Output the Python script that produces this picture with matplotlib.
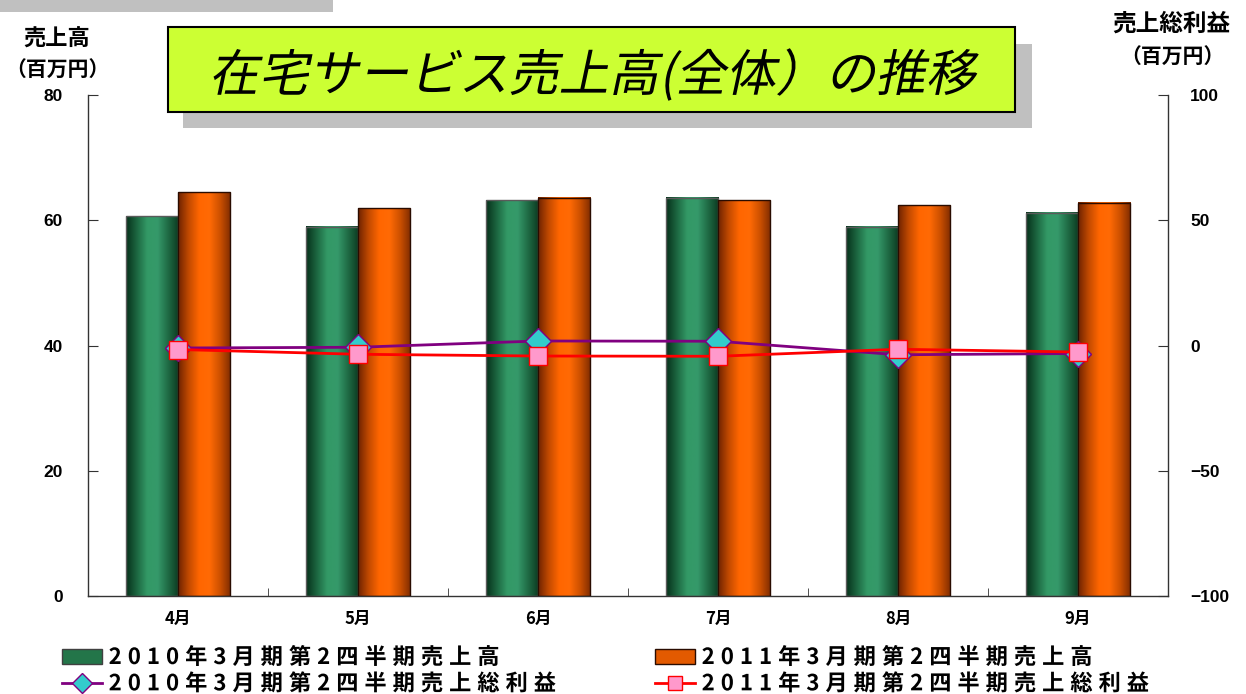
import numpy as np
import matplotlib
matplotlib.use('Agg')
import matplotlib.pyplot as plt
from matplotlib.colors import LinearSegmentedColormap
from matplotlib.patches import Rectangle, Patch
from matplotlib.lines import Line2D
from matplotlib.patheffects import AbstractPathEffect
from matplotlib.textpath import TextToPath
from matplotlib.transforms import Affine2D
from matplotlib.path import Path

W, H = 1246, 694

# data
months = ['4月', '5月', '6月', '7月', '8月', '9月']
sales_2010 = [60.6, 59.0, 63.2, 63.6, 59.0, 61.2]
sales_2011 = [64.5, 61.9, 63.6, 63.2, 62.4, 62.8]
profit_2010 = [-1.0, -0.7, 1.8, 1.7, -3.7, -3.2]
profit_2011 = [-1.6, -3.5, -4.2, -4.3, -1.5, -2.6]
series_names = ['2010年3月期第2四半期売上高', '2011年3月期第2四半期売上高',
                '2010年3月期第2四半期売上総利益', '2011年3月期第2四半期売上総利益']
title = '在宅サービス売上高(全体）の推移'

JP = ['Noto Sans CJK JP', 'DejaVu Sans']
NUM = ['Liberation Sans', 'DejaVu Sans']


class Oblique(AbstractPathEffect):
    """Fake italic: shear the glyph outlines."""
    def __init__(self, angle=12):
        super().__init__()
        self.skew = Affine2D().skew_deg(angle, 0)

    def draw_path(self, renderer, gc, tpath, affine, rgbFace=None):
        renderer.draw_path(gc, tpath, self.skew + affine, rgbFace)


class LetterSpacing(AbstractPathEffect):
    """Redraw the glyphs with extra space between them (em units)."""
    def __init__(self, text, prop, spacing):
        super().__init__()
        self.text, self.prop, self.spacing = text, prop, spacing

    def draw_path(self, renderer, gc, tpath, affine, rgbFace=None):
        t2p = TextToPath()
        font = t2p._get_font(self.prop)
        glyph_info, glyph_map, _ = t2p.get_glyphs_with_font(font, self.text)
        verts, codes = [], []
        for i, (gid, gx, gy, scale) in enumerate(glyph_info):
            v, c = glyph_map[gid]
            verts.extend(v * scale + [gx + i * self.spacing * t2p.FONT_SCALE, gy])
            codes.extend(c)
        path = Path(verts, codes) if verts else tpath
        renderer.draw_path(gc, path, affine, rgbFace)


green = LinearSegmentedColormap.from_list(
    'green', ['#06301a', '#1c6640', '#339966', '#35996a', '#1f6a44', '#0b3a21'])
orange = LinearSegmentedColormap.from_list(
    'orange', ['#6e2200', '#c24a00', '#ff6600', '#ff6a05', '#cc5000', '#7f2c00'])

fig = plt.figure(figsize=(W / 100, H / 100), dpi=100)
fig.patch.set_facecolor('white')

# decorations: gray strip, title box with shadow
fig.add_artist(Rectangle((0, 1 - 12 / H), 333 / W, 12 / H, transform=fig.transFigure,
                         fc='#C0C0C0', ec='none'))
fig.add_artist(Rectangle((183 / W, 1 - 128 / H), 849 / W, 84 / H, transform=fig.transFigure,
                         fc='#C0C0C0', ec='none'))
fig.add_artist(Rectangle((168 / W, 1 - 112 / H), 847 / W, 85 / H, transform=fig.transFigure,
                         fc='#CCFF33', ec='black', lw=1.5))
fig.text(592 / W, 1 - 91 / H, title, ha='center', va='baseline', fontsize=36,
         family=JP, color='black', path_effects=[Oblique(12)])

ax = fig.add_axes([88 / W, 1 - 596 / H, 1080 / W, 501 / H])
ax.set_facecolor('none')
ax2 = ax.twinx()

x = np.arange(len(months))
bw = 0.29
bars10 = ax.bar(x - bw / 2, sales_2010, bw, facecolor='none', edgecolor='#5a5a5a', lw=1, zorder=3)
bars11 = ax.bar(x + bw / 2, sales_2011, bw, facecolor='none', edgecolor='#2a0c00', lw=1, zorder=3)

grad = np.linspace(0, 1, 128).reshape(1, -1)
for bars, cmap in ((bars10, green), (bars11, orange)):
    for r in bars:
        ax.imshow(grad, cmap=cmap, aspect='auto', interpolation='bilinear', zorder=2,
                  extent=[r.get_x(), r.get_x() + r.get_width(), 0, r.get_height()])

ax.set_xlim(-0.5, len(months) - 0.5)
ax.set_ylim(0, 80)
ax.set_yticks([0, 20, 40, 60, 80])
ax.set_xticks(x, months)
ax.set_xticks(np.arange(0.5, len(months) - 1, 1), minor=True)

ax2.plot(x, profit_2010, color='#800080', lw=2, marker='D', ms=13,
         mfc='#33CCCC', mec='#800080', mew=1, zorder=3)
ax2.plot(x, profit_2011, color='#FF0000', lw=2, marker='s', ms=13,
         mfc='#FF99CC', mec='#FF0000', mew=1, zorder=4)
ax2.set_ylim(-100, 100)
ax2.set_yticks([-100, -50, 0, 50, 100])

for s in ('top', 'right'):
    ax.spines[s].set_visible(False)
for s in ('top', 'left', 'bottom'):
    ax2.spines[s].set_visible(False)
for sp in (ax.spines['left'], ax.spines['bottom'], ax2.spines['right']):
    sp.set_color('#333333')
    sp.set_linewidth(1)

ax.tick_params(axis='y', direction='in', length=7, pad=18, colors='#333333', labelcolor='black')
ax2.tick_params(axis='y', direction='in', length=7, pad=16, colors='#333333', labelcolor='black')
ax.tick_params(axis='x', which='major', length=0, pad=10)
ax.tick_params(axis='x', which='minor', direction='in', length=6, colors='#333333')

for lab in ax.get_yticklabels() + ax2.get_yticklabels():
    lab.set_family(NUM)
    lab.set_fontweight('bold')
    lab.set_fontsize(12.5)
for lab in ax.get_xticklabels():
    lab.set_family(JP)
    lab.set_fontweight('bold')
    lab.set_fontsize(12)

# axis titles
fig.text(57 / W, 1 - 39 / H, '売上高', ha='center', va='center', fontsize=16,
         fontweight='bold', family=JP)
fig.text(57 / W, 1 - 70 / H, '（百万円）', ha='center', va='center', fontsize=15,
         fontweight='bold', family=JP)
fig.text(1171 / W, 1 - 24 / H, '売上総利益', ha='center', va='center', fontsize=17,
         fontweight='bold', family=JP)
fig.text(1172 / W, 1 - 57 / H, '（百万円）', ha='center', va='center', fontsize=15,
         fontweight='bold', family=JP)

# legend, two columns placed separately
h_bar10 = Patch(facecolor='#237549', edgecolor='#404040')
h_bar11 = Patch(facecolor='#e35a00', edgecolor='#2a0c00')
h_line10 = Line2D([], [], color='#800080', lw=2, marker='D', ms=10, mfc='#33CCCC', mec='#800080')
h_line11 = Line2D([], [], color='#FF0000', lw=2, marker='s', ms=10, mfc='#FF99CC', mec='#FF0000')
leg_prop = dict(family=JP, weight='bold', size=16)
for handles, labels, left in (([h_bar10, h_line10], [series_names[0], series_names[2]], 62),
                              ([h_bar11, h_line11], [series_names[1], series_names[3]], 655)):
    leg = fig.legend(handles, labels, loc='upper left', bbox_to_anchor=(left / W, 1 - 646 / H),
                     frameon=False, prop=leg_prop, handlelength=1.8, handleheight=0.65,
                     handletextpad=0.3, labelspacing=0.15, borderpad=0, borderaxespad=0)
    for t in leg.get_texts():
        t.set_path_effects([LetterSpacing(t.get_text(), t.get_fontproperties(), 0.27)])

fig.savefig('out.png', dpi=100)
